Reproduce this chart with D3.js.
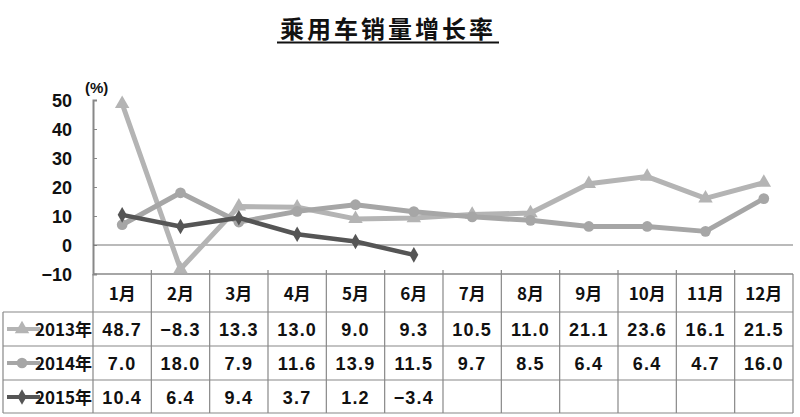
<!DOCTYPE html>
<html><head><meta charset="utf-8">
<script src="https://cdn.jsdelivr.net/npm/d3@7"></script>
<style>body{margin:0;background:#fff}svg{display:block}</style>
</head><body>
<svg id="c" width="800" height="417"></svg>
<script>
const months = ["1月","2月","3月","4月","5月","6月","7月","8月","9月","10月","11月","12月"];
const s2013 = [48.7,-8.3,13.3,13.0,9.0,9.3,10.5,11.0,21.1,23.6,16.1,21.5];
const s2014 = [7.0,18.0,7.9,11.6,13.9,11.5,9.7,8.5,6.4,6.4,4.7,16.0];
const s2015 = [10.4,6.4,9.4,3.7,1.2,-3.4];
const seriesNames = ["2013年","2014年","2015年"];
const yTicks = [-10,0,10,20,30,40,50];
const title = "乘用车销量增长率";

const svg = d3.select("#c");
const x = d3.scaleBand().domain(months).range([93,793]);
const y = d3.scaleLinear().domain([-10,50]).range([274,100]);
const fontLat = "Arial, 'Liberation Sans', sans-serif";
const fontCJK = "'Noto Sans CJK SC', sans-serif";

// title
svg.append("text").attr("x",388).attr("y",38).attr("text-anchor","middle")
  .attr("font-family",fontCJK).attr("font-size",24).attr("font-weight",700)
  .attr("letter-spacing",3).attr("fill","#111").text(title);
svg.append("line").attr("x1",277).attr("x2",499).attr("y1",42.5).attr("y2",42.5)
  .attr("stroke","#111").attr("stroke-width",2);

// y axis
const yAxis = d3.axisRight(y).tickValues(yTicks).tickSize(4).tickFormat("");
const ya = svg.append("g").attr("transform","translate(93,0)").call(yAxis);
ya.select(".domain").attr("stroke","#888").attr("stroke-width",2);
ya.selectAll(".tick line").attr("stroke","#888");
svg.append("g").selectAll("text").data(yTicks).join("text")
  .attr("x",72).attr("y",d=>y(d)+6.5).attr("text-anchor","end")
  .attr("font-family",fontLat).attr("font-weight","bold").attr("font-size",18)
  .attr("fill","#111").text(d=>d===-10?"\u221210":d);
svg.append("text").attr("x",85).attr("y",93).attr("font-family",fontLat)
  .attr("font-weight","bold").attr("font-size",15).attr("fill","#111").text("(%)");

// zero line
svg.append("line").attr("x1",93).attr("x2",793).attr("y1",y(0)).attr("y2",y(0))
  .attr("stroke","#777").attr("stroke-width",1.2);

// table
const rowY = [274,312,346,380,413];
const g = svg.append("g").attr("stroke","#888").attr("stroke-width",1.2).attr("fill","none");
g.append("line").attr("x1",93).attr("x2",793).attr("y1",274).attr("y2",274).attr("stroke-width",1.6);
[312,346,380,413].forEach(yy=>g.append("line").attr("x1",3).attr("x2",793).attr("y1",yy).attr("y2",yy));
g.append("line").attr("x1",3).attr("x2",3).attr("y1",312).attr("y2",413);
const bounds = months.map(m=>x(m)).concat([793]);
bounds.forEach(bx=>g.append("line").attr("x1",bx).attr("x2",bx).attr("y1",274).attr("y2",413));
bounds.slice(1,-1).forEach(bx=>g.append("line").attr("x1",bx).attr("x2",bx).attr("y1",270).attr("y2",274));

const txt = svg.append("g").attr("font-family",fontCJK).attr("font-weight","bold").attr("font-size",17).attr("fill","#111").attr("text-anchor","middle");
months.forEach(m=>txt.append("text").attr("x",x(m)+x.bandwidth()/2).attr("y",300).text(m));
const fmt = v => (v<0?"\u2212":"") + Math.abs(v).toFixed(1);
const allSeries = [s2013,s2014,s2015];
allSeries.forEach((s,i)=>{
  s.forEach((v,j)=>{
    txt.append("text").attr("x",x(months[j])+x.bandwidth()/2).attr("y",rowY[i+1]+24)
      .attr("font-family",fontLat).attr("font-size",18).attr("letter-spacing",1.2).text(fmt(v));
  });
});
seriesNames.forEach((n,i)=>{
  txt.append("text").attr("x",92).attr("y",rowY[i+1]+24).attr("text-anchor","end")
    .attr("font-size",17).text(n);
});

// series
const colors = ["#b4b4b4","#a6a6a6","#555555"];
const widths = [5,5,4.5];
const line = d3.line().x((d,i)=>x(months[i])+x.bandwidth()/2).y(d=>y(d));
const symTypes = [d3.symbolTriangle, d3.symbolCircle, d3.symbolDiamond];
const symSizes = [90,90,70];
allSeries.forEach((s,i)=>{
  svg.append("path").datum(s).attr("d",line).attr("fill","none")
    .attr("stroke",colors[i]).attr("stroke-width",widths[i]).attr("stroke-linejoin","round");
  svg.append("g").selectAll("path").data(s).join("path")
    .attr("transform",(d,j)=>`translate(${x(months[j])+x.bandwidth()/2},${y(d)})`)
    .attr("d",d3.symbol().type(symTypes[i]).size(symSizes[i])).attr("fill",colors[i]);
  const ly = rowY[i+1]+17;
  svg.append("line").attr("x1",7).attr("x2",40).attr("y1",ly).attr("y2",ly)
    .attr("stroke",colors[i]).attr("stroke-width",4);
  svg.append("path").attr("transform",`translate(22,${ly})`)
    .attr("d",d3.symbol().type(symTypes[i]).size(symSizes[i])).attr("fill",colors[i]);
});
</script>
</body></html>
